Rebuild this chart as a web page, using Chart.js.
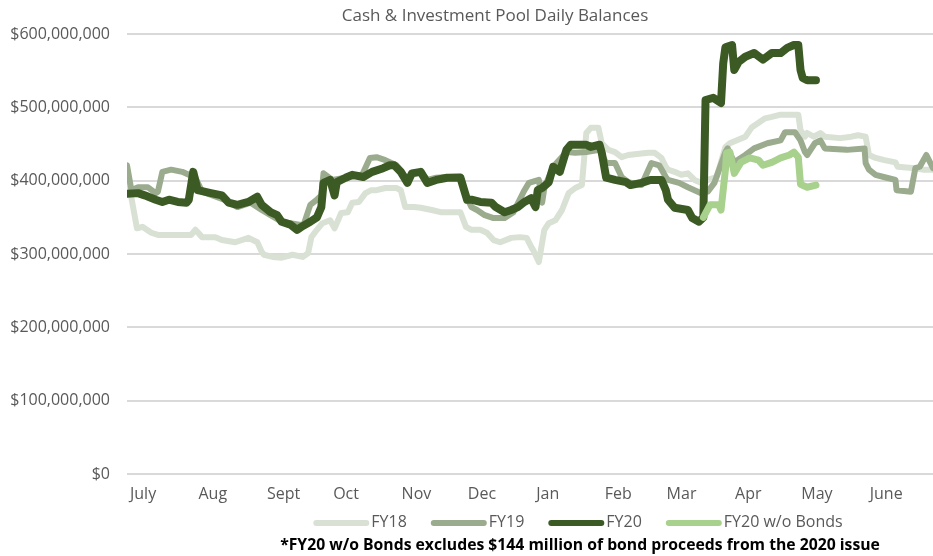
<!DOCTYPE html>
<html>
<head>
<meta charset="utf-8">
<title>Cash & Investment Pool Daily Balances</title>
<script src="https://cdn.jsdelivr.net/npm/chart.js@4/dist/chart.umd.min.js"></script>
<style>
  html, body { margin: 0; padding: 0; background: #fff; }
  #chart { display: block; }
</style>
</head>
<body>
<canvas id="chart" width="933" height="556"></canvas>
<script>
// fiscal year runs July 1 -> June 30, x = day of fiscal year, y = balance in $ millions
const chartTitle = 'Cash & Investment Pool Daily Balances';
const footnote = '*FY20 w/o Bonds excludes $144 million of bond proceeds from the 2020 issue';
const monthLabels = ['July', 'Aug', 'Sept', 'Oct', 'Nov', 'Dec', 'Jan', 'Feb', 'Mar', 'Apr', 'May', 'June'];
const monthStartDays = [0, 31, 62, 92, 123, 153, 184, 215, 243, 274, 304, 335];
const yTickValues = [0, 100, 200, 300, 400, 500, 600];

const fy18 = [[0,405],[1.5,385],[4.5,335],[7,337],[11,329],[14,326],[22,326],[29,326],[31,333],[34,323],[40,323],[43,319],
  [49,316],[55,322],[59,316],[61,303],[62,299],[66,296],[70,295],[75,299],[79.5,296],[82,301],[83.5,323],[86,333],
  [88.5,342],[92,346],[94,335],[97,356],[100,357],[102,370],[105,371],[108,383],[110.6,387],[113,387],[117,390],
  [122,390],[124,387],[126,364],[130,364],[133,363],[138,360],[142,357],[151,357],[153.5,337],[156,333],[160,333],
  [163,329],[166,319],[169,316],[174,322],[178,323],[181,322],[183,310],[184,305],[186.5,289],[189,333],[191,342],
  [194,346],[197,360],[200,383],[203,390],[206,394],[208,465],[210,472],[213.5,472],[215,451],[218,442],[221,439],
  [224,432],[227,435],[236,438],[239,438],[242,431],[244,419],[245,415],[248,412],[251,408],[254,410],[257,401],
  [260,397],[263,401],[267,405],[271,446],[273,451],[280,460],[283,473],[286,479],[289,485],[292,487],[296,490],
  [304,490],[305,469],[307,460],[308,465],[311,460],[314,465],[316,460],[323,458],[328,460],[331,462],[334.5,460],
  [336,435],[339,431],[343,428],[348,425],[349,419],[357,417],[361,415],[365,415]];

const fy19 = [[0,421],[2,387],[5,391],[9.5,391],[13,383],[14,385],[16,412],[20,415],[25,412],[28,408],[30,410],[34,385],
  [44,374],[50,364],[56,370],[61,360],[65,353],[70,344],[78,340],[80,340],[83,367],[86,374],[88,380],[89,410],[93,401],
  [99,404],[106.5,408],[110,431],[113,432],[117,428],[122,421],[124,414],[127,401],[129,410],[133,412],[136,401],
  [140,404],[151,406],[154,376],[156,364],[158.5,360],[162,353],[166,349],[171,349],[175,357],[180,387],[182,397],
  [186.5,401],[188,370],[189,390],[193,419],[199,439],[203,438],[208,439],[214,442],[217,424],[221,424],[224,405],
  [227,398],[233,394],[237.5,424],[241,421],[244,405],[245,401],[250,397],[254,391],[257,387],[260,383],[263,385],
  [266,397],[271,439],[272,444],[275,425],[280,435],[284,444],[290,451],[296,455],[298,466],[302.5,466],[305,455],
  [307,439],[308,435],[311.5,451],[314,455],[316,444],[326,442],[334,444],[334.5,424],[336,415],[339,408],[344,404],
  [348,401],[348.5,387],[355,385],[357,417],[359,419],[362,435],[365,417]];

const fy20 = [[0,382],[5,383],[8,380],[13,374],[16,371],[19,374],[23,371],[27,370],[28,374],[30,412],[32,387],[35,385],
  [38,383],[43,380],[46,370],[50,367],[55,371],[59,378],[61,367],[65,357],[68,353],[70,344],[74,340],[77,333],[79,337],
  [83,344],[86,350],[88,364],[89,397],[92,401],[94,380],[95,398],[99,404],[102,408],[107,405],[111,412],[116,417],
  [119,421],[121,421],[124,412],[127,397],[129,410],[133,412],[136,397],[140,401],[145,404],[151,404],[154,374],
  [156,374],[160,371],[165,370],[167,364],[171,357],[174,360],[177,364],[180,371],[183,376],[184,370],[185,364],
  [186,387],[188,390],[191,398],[193,419],[196,412],[199,442],[201,449],[208,449],[210,446],[214,449],[215,438],
  [217,404],[221,401],[226,398],[228,394],[233,397],[237,401],[242,401],[244,387],[245,374],[248,363],[254,360],
  [256,349],[259,344],[261,350],[262,510],[265.5,513],[269,506],[270,560],[271,582],[274,585],[275,551],[277,562],
  [280,569],[284,574],[288,565],[292,574],[296,574],[299,581],[302,585],[304,585],[305,551],[306,540],[308,537],[312,537]];

const fy20NoBonds = [[261,350],[264,367],[268,367],[269,360],[271,415],[271.5,438],[273,439],[275,410],[278,425],
  [282,431],[286,428],[288,421],[292,425],[296,431],[300,435],[302,439],[304,432],[305,395],[308,391],[312,394]];

const toPoints = rows => rows.map(r => ({ x: r[0], y: r[1] }));
const baseFont = '"Open Sans", "DejaVu Sans", sans-serif';

const extrasPlugin = {
  id: 'extras',
  afterDraw(chart) {
    const ctx = chart.ctx;
    ctx.save();
    ctx.textBaseline = 'middle';

    ctx.fillStyle = '#595959';
    ctx.font = '17px ' + baseFont;
    ctx.textAlign = 'center';
    ctx.fillText(chartTitle, 495, 16);

    // legend row
    ctx.font = '16px ' + baseFont;
    ctx.textAlign = 'left';
    const items = chart.data.datasets;
    const swatch = 56, gap = 24;
    let total = 0;
    items.forEach(ds => { total += swatch + 2 + ctx.measureText(ds.label).width + gap; });
    total -= gap;
    let x = 578 - total / 2;
    items.forEach(ds => {
      ctx.strokeStyle = ds.borderColor;
      ctx.lineWidth = 6;
      ctx.lineCap = 'round';
      ctx.beginPath();
      ctx.moveTo(x + 3, 523);
      ctx.lineTo(x + swatch - 3, 523);
      ctx.stroke();
      ctx.fillStyle = '#595959';
      ctx.fillText(ds.label, x + swatch + 2, 522);
      x += swatch + 2 + ctx.measureText(ds.label).width + gap;
    });

    // footnote
    ctx.font = 'bold 16px ' + baseFont;
    const w = ctx.measureText(footnote).width;
    const size = 16 * 600 / w;
    ctx.font = 'bold ' + size.toFixed(2) + 'px ' + baseFont;
    ctx.fillStyle = '#000000';
    ctx.textAlign = 'center';
    ctx.fillText(footnote, 580, 546);
    ctx.restore();
  }
};

new Chart(document.getElementById('chart'), {
  type: 'line',
  data: {
    datasets: [
      { label: 'FY18', data: toPoints(fy18), borderColor: '#d8e1d3', borderWidth: 6, order: 4 },
      { label: 'FY19', data: toPoints(fy19), borderColor: '#9bab8e', borderWidth: 6, order: 3 },
      { label: 'FY20', data: toPoints(fy20), borderColor: '#3b5a24', borderWidth: 8, order: 2 },
      { label: 'FY20 w/o Bonds', data: toPoints(fy20NoBonds), borderColor: '#a8d18d', borderWidth: 7, order: 1 }
    ]
  },
  options: {
    responsive: false,
    devicePixelRatio: 1,
    animation: false,
    events: [],
    layout: { padding: { top: 34, right: 0, bottom: 42, left: 0 } },
    elements: {
      point: { radius: 0 },
      line: { tension: 0, fill: false, borderCapStyle: 'round', borderJoinStyle: 'round' }
    },
    plugins: {
      legend: { display: false },
      title: { display: false },
      tooltip: { enabled: false }
    },
    scales: {
      x: {
        type: 'linear',
        min: 0,
        max: 365,
        grid: { display: false },
        border: { display: false },
        afterBuildTicks: scale => { scale.ticks = monthStartDays.map(d => ({ value: d })); },
        afterFit: scale => { scale.height = 40; },
        ticks: {
          autoSkip: false,
          maxRotation: 0,
          align: 'start',
          labelOffset: 3,
          padding: 3,
          color: '#595959',
          font: { family: baseFont, size: 16 },
          callback: (v, i) => monthLabels[i]
        }
      },
      y: {
        min: 0,
        max: 600,
        afterBuildTicks: scale => { scale.ticks = yTickValues.map(v => ({ value: v })); },
        afterFit: scale => { scale.width = 127; },
        grid: { color: '#d9d9d9', lineWidth: 2, drawTicks: false },
        border: { display: false },
        ticks: {
          padding: 17,
          color: '#595959',
          font: { family: baseFont, size: 16 },
          callback: v => '$' + (v * 1000000).toLocaleString('en-US')
        }
      }
    }
  },
  plugins: [extrasPlugin]
});
</script>
</body>
</html>
